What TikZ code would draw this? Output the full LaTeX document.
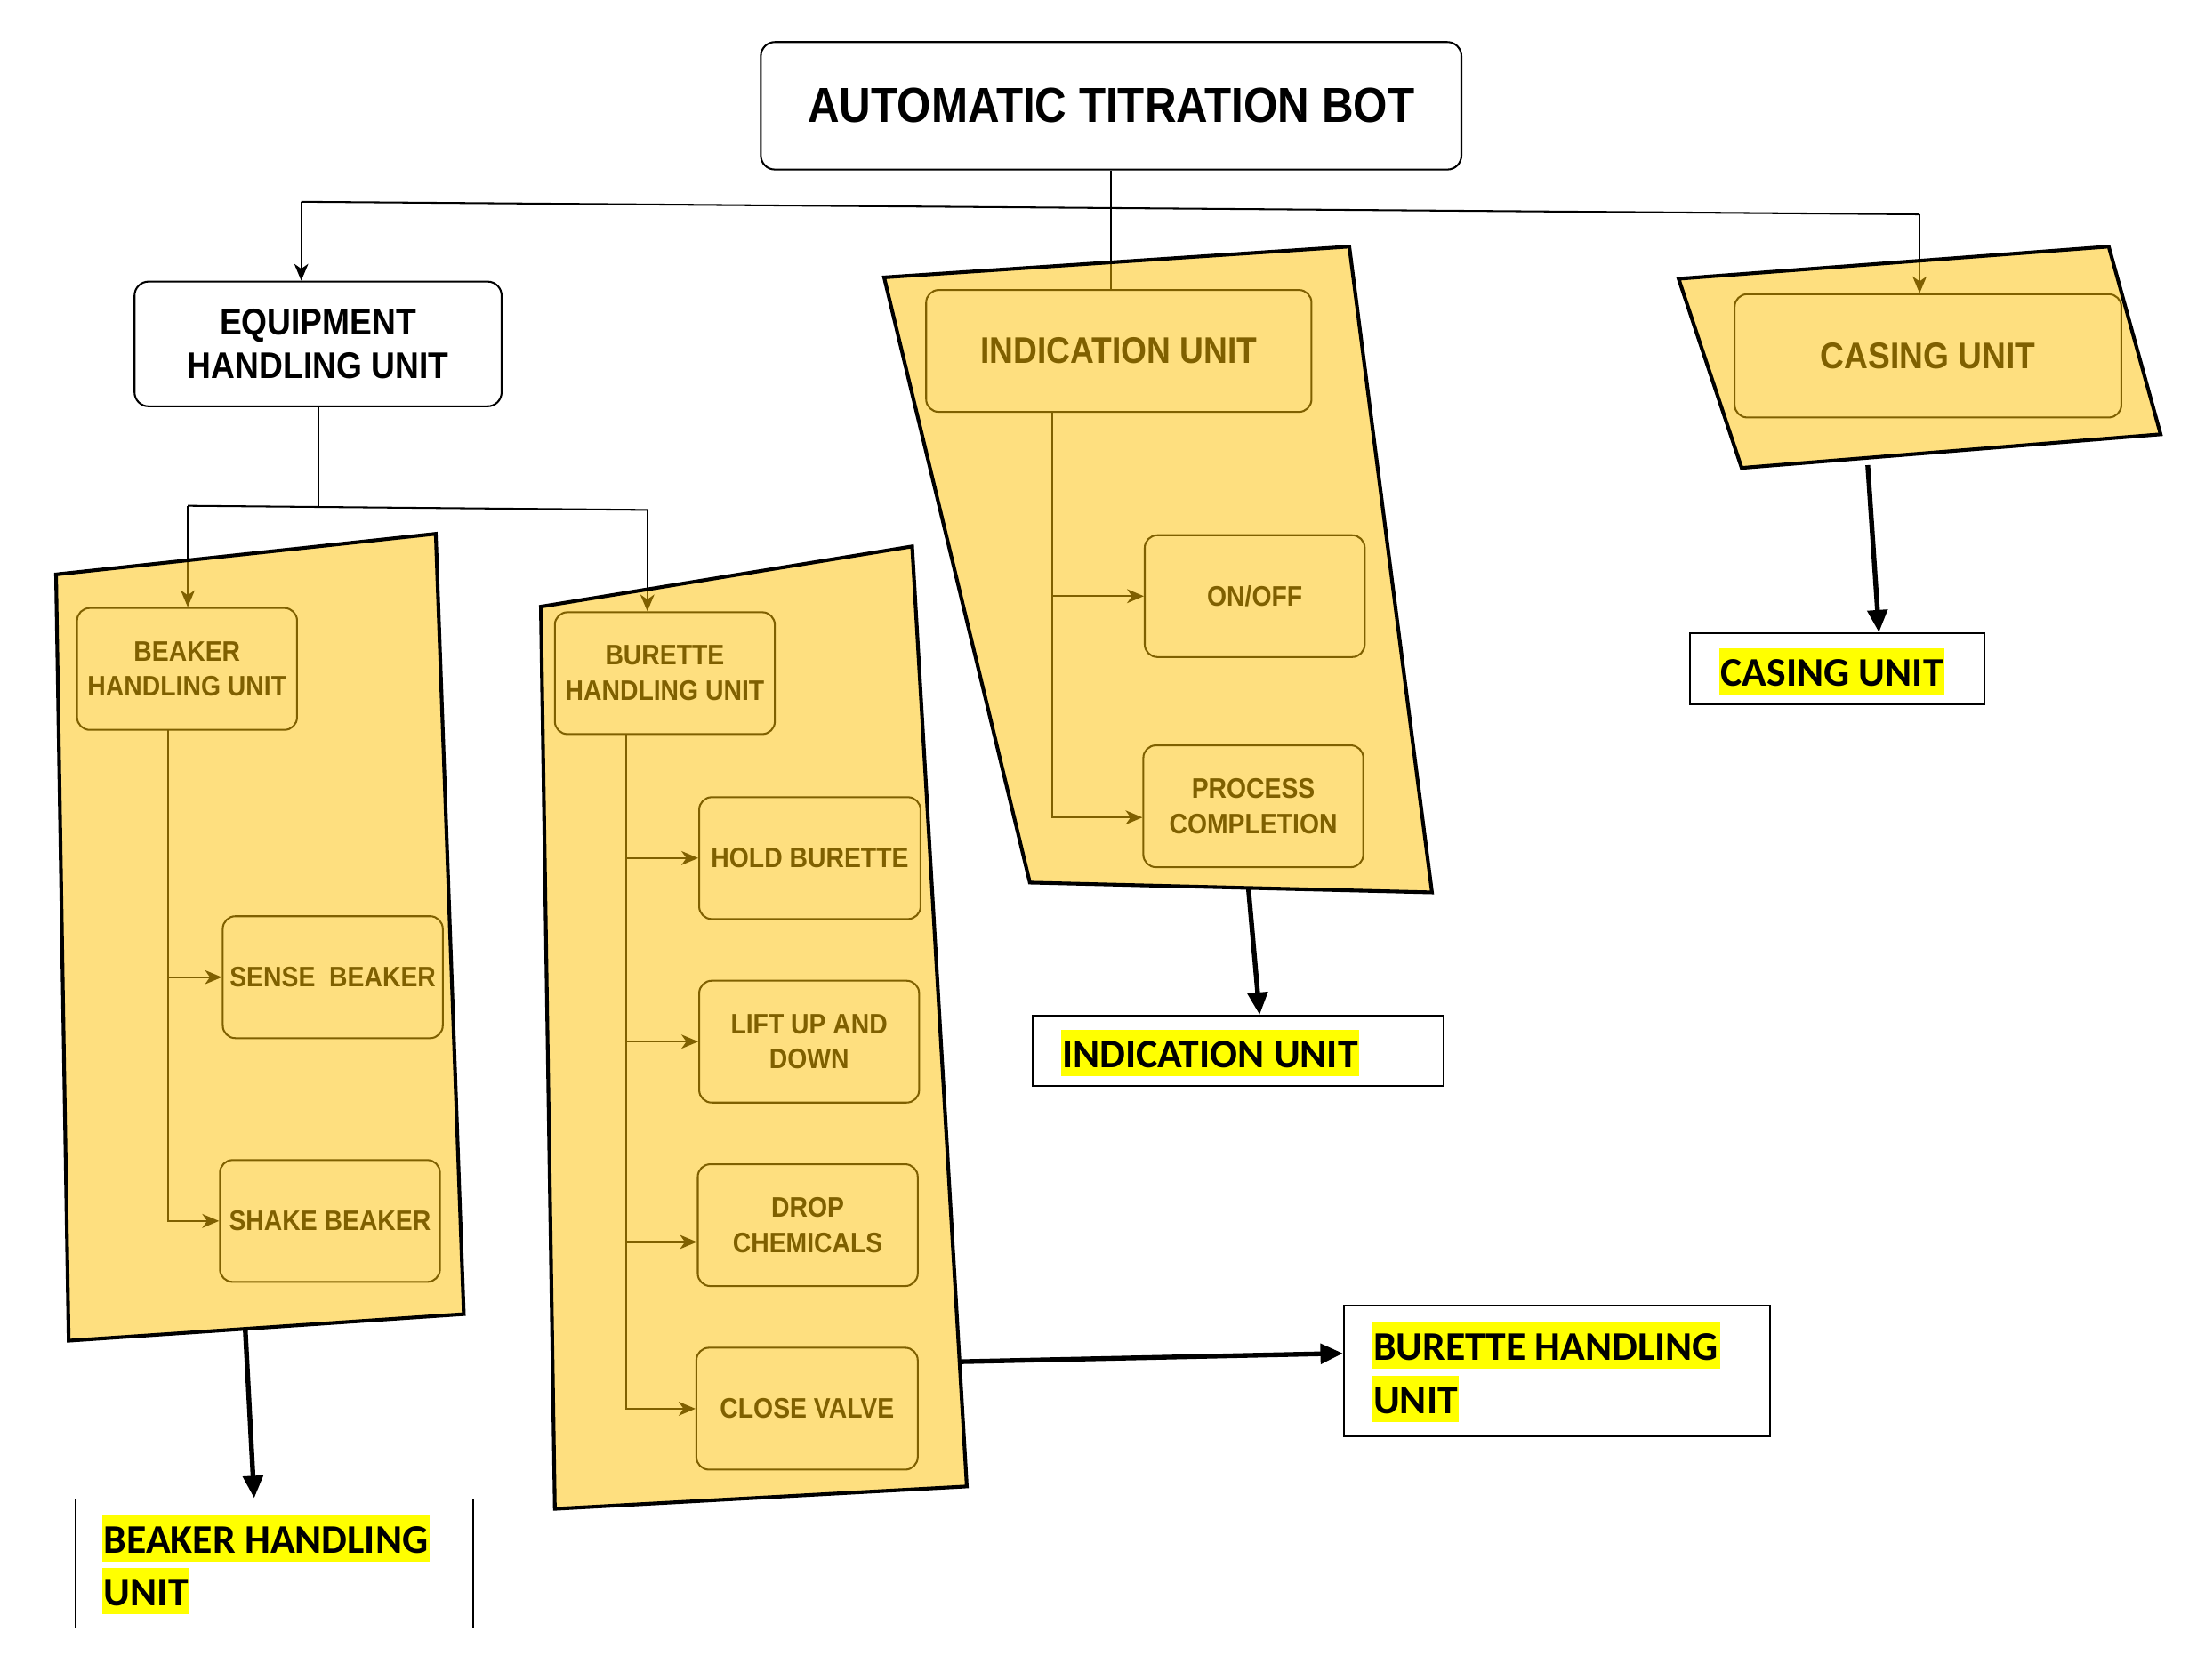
\documentclass[tikz,border=0pt]{standalone}
\usepackage{fontspec}
\setmainfont{Liberation Sans}
\newfontfamily\calibfont{Carlito}
\usepackage{graphicx}
\usetikzlibrary{arrows.meta,calc}
\definecolor{qy}{RGB}{254,192,0}
\definecolor{hly}{RGB}{255,255,0}
\newcommand\st[1]{\scalebox{1}[1.12]{#1}}
\begin{document}
\begin{tikzpicture}[x=1pt,y=-1pt,
  box/.style={draw, line width=1.3pt, rounded corners=10pt, fill=white, inner sep=0pt, align=center, font=\bfseries\fontsize{23.6}{31}\selectfont},
  sbox/.style={box, rounded corners=9pt, minimum width=157pt, minimum height=87pt, font=\bfseries\fontsize{18}{25}\selectfont},
  conn/.style={line width=1.3pt},
  arr/.style={conn, -{Stealth[length=12pt,width=10pt,inset=3.5pt]}},
  quad/.style={fill=qy, fill opacity=0.5, draw=black, line width=2.6pt, line join=miter},
  big/.style={line width=3.4pt, -{Triangle[length=16pt,width=14pt]}},
  lbl/.style={draw, line width=1.2pt, fill=white, inner sep=0pt},
  hl/.style={fill=hly, font=\calibfont\bfseries\fontsize{29}{36}\selectfont, inner xsep=1pt, inner ysep=0pt, text height=27pt, text depth=6pt, anchor=base west}
]
\useasboundingbox[fill=white] (0,0) rectangle (1568,1199);

% top level
\node[box, minimum width=500pt, minimum height=91pt, font=\bfseries\fontsize{31.3}{36}\selectfont] (T) at (793,75.5) {\st{AUTOMATIC TITRATION BOT}};
\node[box, minimum width=262pt, minimum height=89pt] (E) at (227,245.5) {\st{EQUIPMENT}\\\st{HANDLING UNIT}};

% beaker group
\node[sbox] (B) at (133.5,477.5) {\st{BEAKER}\\\st{HANDLING UNIT}};
\node[sbox] (S1) at (237.5,697.5) {\st{SENSE\ \ BEAKER}};
\node[sbox] (S2) at (235.5,871.5) {\st{SHAKE BEAKER}};

% burette group
\node[sbox] (U) at (474.5,480.5) {\st{BURETTE}\\\st{HANDLING UNIT}};
\node[sbox, minimum width=158pt] (H1) at (578,612.5) {\st{HOLD BURETTE}};
\node[sbox] (H2) at (577.5,743.5) {\st{LIFT UP AND}\\\st{DOWN}};
\node[sbox] (H3) at (576.5,874.5) {\st{DROP}\\\st{CHEMICALS}};
\node[sbox, minimum width=158pt] (H4) at (576,1005.5) {\st{CLOSE VALVE}};

% indication group
\node[sbox, minimum width=275pt, font=\bfseries\fontsize{23.6}{31}\selectfont] (I) at (798.5,250.5) {\st{INDICATION UNIT}};
\node[sbox] (O1) at (895.5,425.5) {\st{ON/OFF}};
\node[sbox] (O2) at (894.5,575.5) {\st{PROCESS}\\\st{COMPLETION}};

% casing
\node[sbox, minimum width=276pt, minimum height=88pt, font=\bfseries\fontsize{23.6}{31}\selectfont] (C) at (1376,254) {\st{CASING UNIT}};

% connectors
\coordinate (jl) at (215,144);
\coordinate (jr) at (1370,153);
\draw[conn] (T.south) -- (T.south |- I.north);
\draw[conn] (jl) -- (jr);
\draw[arr] (jl) -- (jl |- E.north);
\draw[arr] (jr) -- (jr |- C.north);

\coordinate (ej) at (227,362.5);
\coordinate (bl) at (134,361);
\coordinate (br) at (462,364);
\draw[conn] (E.south) -- (ej);
\draw[conn] (bl) -- (br);
\draw[arr] (bl) -- (bl |- B.north);
\draw[arr] (br) -- (br |- U.north);

\coordinate (bt) at (120,521);
\draw[arr] (bt) |- (S1.west);
\draw[arr] (bt) |- (S2.west);

\coordinate (ut) at (447,524);
\draw[arr] (ut) |- (H1.west);
\draw[arr] (ut) |- (H2.west);
\draw[arr] (ut) |- ($(H3.west)+(0,12)$);
\draw[arr] (ut) |- (H4.west);

\coordinate (it) at (751,294);
\draw[arr] (it) |- (O1.west);
\draw[arr] (it) |- ($(O2.west)+(0,8)$);

% yellow overlays
\filldraw[quad] (40,410) -- (311,381) -- (331,938) -- (49,957) -- cycle;
\filldraw[quad] (386,433) -- (651,390) -- (690,1061) -- (396,1077) -- cycle;
\filldraw[quad] (631,198) -- (963,176) -- (1022,637) -- (735,630) -- cycle;
\filldraw[quad] (1198,199) -- (1505,176) -- (1542,310) -- (1243,334) -- cycle;

% label boxes
\node[lbl, minimum width=284pt, minimum height=92pt] (LB) at (196,1116) {};
\node[lbl, minimum width=304pt, minimum height=93pt] (LU) at (1111,978.5) {};
\node[lbl, minimum width=293pt, minimum height=50pt] (LI) at (883.5,750) {};
\node[lbl, minimum width=210pt, minimum height=51pt] (LC) at (1311,477.5) {};

\node[hl] (lb1) at (73,1109) {BEAKER HANDLING};
\node[hl] (lb2) at (73,1146) {UNIT};
\node[hl] (lu1) at (979,971) {BURETTE HANDLING};
\node[hl] (lu2) at (979,1009) {UNIT};
\node[hl] (li) at (757,762) {INDICATION UNIT};
\node[hl] (lc) at (1227,490) {CASING UNIT};

% bold arrows
\coordinate (q1) at (175,948);
\coordinate (q2) at (685,972);
\coordinate (q3) at (891,634);
\coordinate (q4) at (1333,332);
\draw[big] (q1) -- ($(LB.north west)+(128,0)$);
\draw[big] (q2) -- ($(LU.west)+(0,-12.5)$);
\draw[big] (q3) -- ($(LI.north)+(15.5,0)$);
\draw[big] (q4) -- ($(LC.north)+(30,0)$);
\end{tikzpicture}
\end{document}
